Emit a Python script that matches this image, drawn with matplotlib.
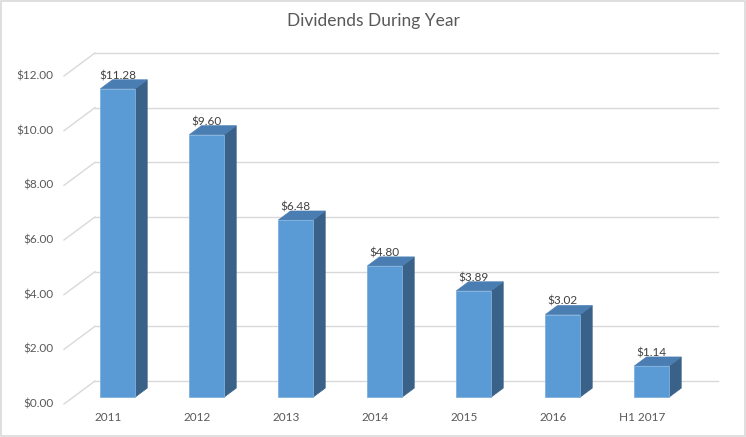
import matplotlib
matplotlib.use("Agg")
import matplotlib.pyplot as plt
from matplotlib.patches import Polygon, Rectangle

# data
categories = ["2011", "2012", "2013", "2014", "2015", "2016", "H1 2017"]
dividends = [11.28, 9.60, 6.48, 4.80, 3.89, 3.02, 1.14]
value_ticks = [0, 2, 4, 6, 8, 10, 12]

# colours
front_col = "#5b9bd5"
top_col = "#4a7eb3"
side_col = "#3a6288"
grid_col = "#d9d9d9"
text_col = "#595959"

plt.rcParams['font.family'] = ['Lato', 'DejaVu Sans']

fig = plt.figure(figsize=(7.46, 4.37), dpi=100)
ax = fig.add_axes([0, 0, 1, 1])
ax.set_xlim(-1.219, 7.163)
ax.set_ylim(-1.207, 14.78)
ax.axis("off")

# fake 3d depth, in data units
depth_x, depth_y = 0.348, 0.842
bar_front, bar_back = 0.30, 0.69
bar_w = 0.39
n = len(categories)

# back wall gridlines + left wall diagonals
for v in value_ticks:
    ax.plot([-0.5 + depth_x, n - 0.5 + depth_x], [v + depth_y, v + depth_y],
            color=grid_col, lw=1, zorder=1)
    ax.plot([-0.5, -0.5 + depth_x], [v, v + depth_y], color=grid_col, lw=1, zorder=1)
    ax.text(-0.62, v, "${:.2f}".format(v), ha="right", va="center",
            fontsize=8.5, color=text_col)

bx = (bar_back - bar_front) * depth_x
by = (bar_back - bar_front) * depth_y
for i, (cat, val) in enumerate(zip(categories, dividends)):
    x0 = i - bar_w / 2 + bar_front * depth_x
    x1 = x0 + bar_w
    y0 = bar_front * depth_y
    y1 = y0 + val
    ax.add_patch(Polygon([(x1, y0), (x1 + bx, y0 + by), (x1 + bx, y1 + by), (x1, y1)],
                         closed=True, facecolor=side_col, edgecolor=side_col, lw=0.5, zorder=2))
    ax.add_patch(Polygon([(x0, y1), (x1, y1), (x1 + bx, y1 + by), (x0 + bx, y1 + by)],
                         closed=True, facecolor=top_col, edgecolor=top_col, lw=0.5, zorder=2))
    ax.add_patch(Rectangle((x0, y0), bar_w, val, facecolor=front_col,
                           edgecolor="#7fb0dd", lw=0.6, zorder=3))
    ax.text(i + bar_front * depth_x, y1 + 0.48, "${:.2f}".format(val), ha="center",
            va="center", fontsize=8.5, color="#404040", zorder=4)
    ax.text(i, -0.51, cat, ha="center", va="center", fontsize=8.5, color=text_col)

fig.text(0.5, 1 - 21 / 437, "Dividends During Year", ha="center", va="center",
         fontsize=12.5, color=text_col)

# chart border
fig.patches.append(Rectangle((0.001, 0.002), 0.997, 0.996, transform=fig.transFigure,
                             fill=False, edgecolor=grid_col, lw=1.2))

fig.savefig("out.png", dpi=100)
